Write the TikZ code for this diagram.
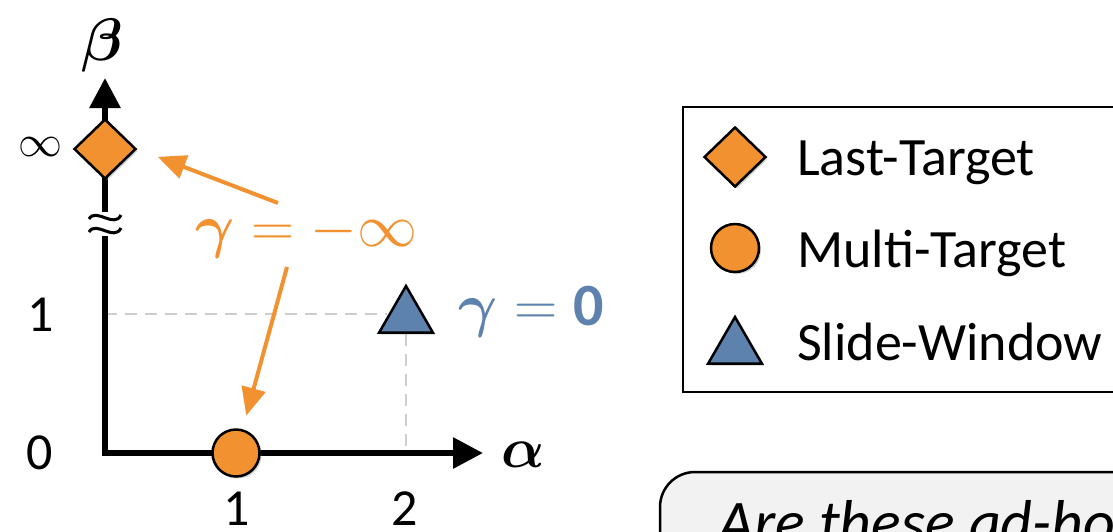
\RequirePackage{fix-cm}
\documentclass[tikz,border=0pt]{standalone}
\usepackage{fontspec}
\setmainfont{Carlito}
\usepackage{amsmath,bm}
\usetikzlibrary{shapes.geometric,arrows.meta,shadows,backgrounds}
\definecolor{myorange}{RGB}{241,145,47}
\definecolor{myblue}{RGB}{94,130,174}
\definecolor{dashgray}{RGB}{205,205,205}
\definecolor{boxgray}{RGB}{242,242,242}
\tikzset{
 axisline/.style={line width=6pt, {Triangle[length=30pt,width=30pt]}-{Triangle[length=30pt,width=30pt]}},
 guide/.style={dashgray, line width=2.5pt, dash pattern=on 12pt off 8pt},
 marker/.style={draw=black, line width=2.5pt, inner sep=0pt, drop shadow={shadow xshift=2pt,shadow yshift=-2pt,opacity=0.35}},
 dmd/.style={marker, diamond, fill=myorange, minimum width=62pt, minimum height=60pt},
 circ/.style={marker, circle, fill=myorange, minimum size=47pt},
 tri/.style={marker, regular polygon, regular polygon sides=3, fill=myblue, minimum size=62pt},
 lbl/.style={font=\fontsize{52}{60}\selectfont, inner sep=0pt},
 leg/.style={font=\fontsize{54}{62}\selectfont, inner sep=0pt, anchor=base west},
 mlbl/.style={font=\fontsize{60}{70}\selectfont, inner sep=0pt, anchor=base west},
 orarrow/.style={myorange, line width=4pt, -{Triangle[length=28pt,width=24pt]}},
}
\begin{document}
\begin{tikzpicture}[x=1pt,y=-1pt]
\clip (0,0) rectangle (1113,531);
\coordinate (O) at (105,453);
\coordinate (ytip) at (105,78);
\coordinate (xtip) at (483,453);
% axes
\draw[axisline] (ytip) -- (O) -- (xtip);
% axis break
\fill[white] (96,212) rectangle (114,236);
\draw[line width=3pt] (89,219) .. controls (96,207) and (114,229) .. (121,215);
\draw[line width=3pt] (89,232) .. controls (96,220) and (114,242) .. (121,228);
% markers
\node[tri] (swt) at (406,317) {};
\node[dmd] (ltd) at (105,149) {};
\node[circ] (mtc) at (236,453) {};
% guides
\begin{scope}[on background layer]
\fill[white] (0,0) rectangle (1113,531);
\draw[guide] (105,314) -- (swt.west |- 0,314);
\draw[guide] (swt.south) -- (406,450);
\end{scope}
% axis labels
\node[font=\fontsize{60}{66}\selectfont, inner sep=0pt] (beta) at (102,45) {$\bm{\beta}$};
\node[font=\fontsize{57}{66}\selectfont, inner sep=0pt] (alpha) at (523,455) {$\bm{\alpha}$};
\node[font=\fontsize{44}{50}\selectfont, inner sep=0pt] (inf) at (40,147) {$\infty$};
\node[lbl] (y1) at (41,315) {1};
\node[lbl] (y0) at (40,453) {0};
\node[lbl] (x1) at (237,509) {1};
\node[lbl] (x2) at (405,509) {2};
% gamma labels
\node[mlbl, text=myorange] (gneg) at (195,246) {$\bm{\gamma}=-\infty$};
\node[mlbl, text=myblue] (gzero) at (458,325) {$\bm{\gamma}=\mathbf{0}$};
% orange arrows
\coordinate (a1s) at (278,203);
\coordinate (a2s) at (287,267);
\draw[orarrow, shorten >=22pt] (a1s) -- (ltd.east);
\draw[orarrow, shorten >=14pt] (a2s) -- (mtc);
% legend
\draw[line width=2.5pt] (683,107) rectangle (1130,392);
\node[dmd] (lgd) at (735,157) {};
\node[circ, minimum size=48pt] (lgc) at (735,248) {};
\node[tri] (lgt) at (735,348) {};
\node[leg] (lt1) at (797,175) {Last-Target};
\node[leg] (lt2) at (797,267) {Multi-Target};
\node[leg] (lt3) at (797,360) {Slide-Window};
% question box
\draw[line width=2.5pt, fill=boxgray, rounded corners=35pt] (660,472) rectangle (1160,620);
\node[leg, font=\fontsize{62}{70}\selectfont\itshape] (q) at (718,543) {Are these ad-hoc};
\end{tikzpicture}
\end{document}
